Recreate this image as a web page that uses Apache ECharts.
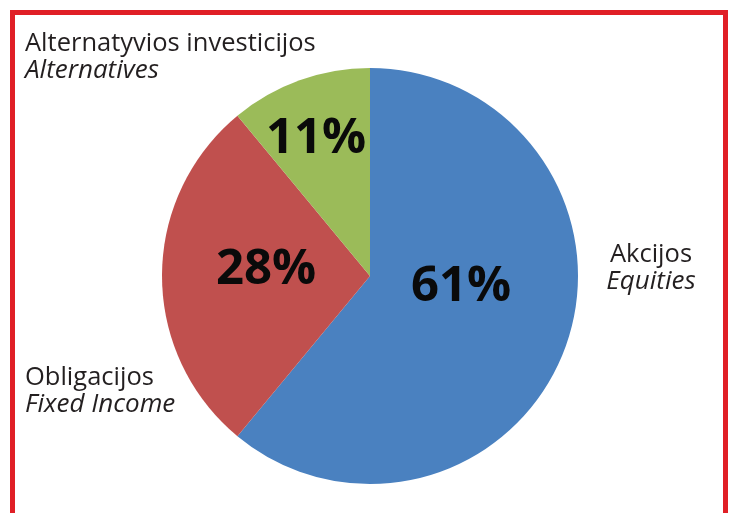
<!DOCTYPE html>
<html>
<head>
<meta charset="utf-8">
<script src="https://cdn.jsdelivr.net/npm/echarts@6/dist/echarts.min.js"></script>
<style>
  html, body { margin: 0; padding: 0; background: #fff; }
  #pie { width: 732px; height: 513px; }
</style>
</head>
<body>
<div id="pie"></div>
<script>
// duomenys
const categories = ["Akcijos", "Obligacijos", "Alternatyvios investicijos"];
const categoriesEn = ["Equities", "Fixed Income", "Alternatives"];
const shares = [61, 28, 11];

const colors = ["#4a81c0", "#c0504e", "#9bbb59"];
// label positions (centres for the %, anchor for names)
const valuePos = [[461, 287], [266, 270], [316, 139]];
const namePos = [[651, 268, "center"], [25, 391, "left"], [25, 57, "left"]];

var myChart = echarts.init(document.getElementById("pie"));

let data = categories.map((name, i) => {
  return { name: name, value: shares[i], en: categoriesEn[i] };
});

let pieOptions = {
  animation: false,
  backgroundColor: "#fff",
  color: colors,
  graphic: [
    {
      type: "rect",
      shape: { x: 12.5, y: 12.5, width: 713, height: 560 },
      style: { fill: "none", stroke: "#e01f26", lineWidth: 5 },
      silent: true,
    },
  ],
  series: [
    {
      type: "pie",
      center: [370, 276],
      radius: 208,
      startAngle: 90,
      clockwise: true,
      silent: true,
      itemStyle: { borderWidth: 0 },
      label: {
        show: true,
        position: "inside",
        formatter: "{c}%",
        color: "#0a0a0a",
        fontFamily: "Open Sans",
        fontWeight: "bold",
        fontSize: 49,
      },
      labelLine: { show: false },
      labelLayout: (params) => {
        const p = valuePos[params.dataIndex];
        return { x: p[0], y: p[1], align: "center", verticalAlign: "middle" };
      },
      data: data,
    },
    {
      type: "pie",
      center: [370, 276],
      radius: 208,
      startAngle: 90,
      silent: true,
      itemStyle: { color: "rgba(0,0,0,0)" },
      label: {
        show: true,
        position: "inside",
        formatter: (p) => "{a|" + p.name + "}\n{b|" + p.data.en + "}",
        rich: {
          a: { fontFamily: "Open Sans", fontSize: 25.5, color: "#231f20", lineHeight: 27 },
          b: { fontFamily: "Open Sans", fontStyle: "italic", fontSize: 26, color: "#231f20", lineHeight: 27 },
        },
      },
      labelLine: { show: false },
      labelLayout: (params) => {
        const p = namePos[params.dataIndex];
        return { x: p[0], y: p[1], align: p[2], verticalAlign: "middle" };
      },
      data: data,
    },
  ],
};
myChart.setOption(pieOptions);
</script>
</body>
</html>
